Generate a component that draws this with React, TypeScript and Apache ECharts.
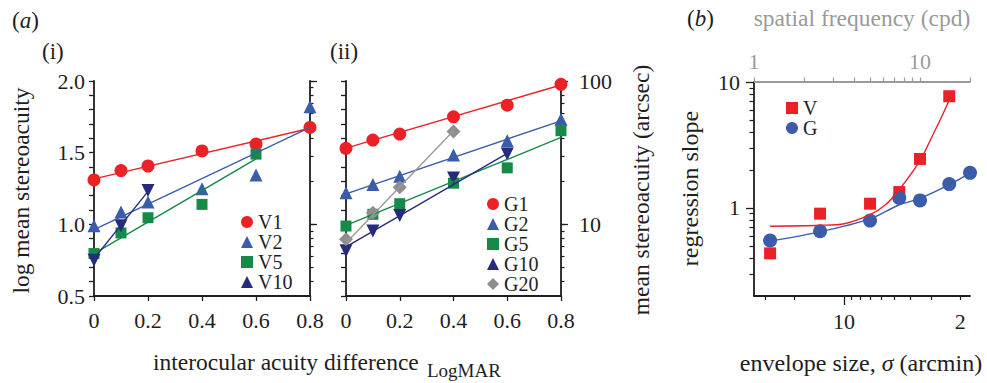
import React, { useEffect, useRef } from 'react';
import * as echarts from 'echarts';

const FONT = 'Liberation Serif, serif';

// ---------- panel (a) data ----------
const acuityDiff = [0, 0.1, 0.2, 0.4, 0.6, 0.8];
const xTickLabels = [0, 0.2, 0.4, 0.6, 0.8];
const logTicks = [0.5, 0.6, 0.7, 0.8, 0.9, 1.0, 1.1, 1.2, 1.3, 1.4, 1.5, 1.6, 1.7, 1.8, 1.9, 2.0];
const logTickLabels = [0.5, 1.0, 1.5, 2.0];
const arcsecTicks = [4, 5, 6, 7, 8, 9, 10, 20, 30, 40, 50, 60, 70, 80, 90, 100];
const arcsecLabels = [10, 100];

// (i) visual
const V1 = [1.31, 1.375, 1.407, 1.512, 1.56, 1.676];
const V2 = [0.99, 1.086, 1.155, 1.248, 1.345, 1.82];
const V5 = [0.796, 0.94, 1.046, 1.139, 1.49];
const V10 = [0.75, 0.99, 1.236];
const V1fit = [[0, 1.317], [0.8, 1.67]];
const V2fit = [[0, 0.963], [0.8, 1.676]];
const V5fit = [[0, 0.796], [0.6, 1.456]];
const V10fit = [[0, 0.76], [0.2, 1.23]];

// (ii) gabor
const G1 = [1.53, 1.588, 1.63, 1.75, 1.831, 1.977];
const G2 = [1.22, 1.278, 1.336, 1.484, 1.583, 1.734];
const G5 = [0.988, 1.07, 1.144, 1.287, 1.394, 1.653];
const G10 = [0.815, 0.954, 1.0625, 1.324, 1.49];
const G20 = [0.896, 1.081, 1.259, 1.648];
const G1fit = [[0, 1.532], [0.8, 1.972]];
const G2fit = [[0, 1.213], [0.8, 1.722]];
const G5fit = [[0, 0.993], [0.8, 1.606]];
const G10fit = [[0, 0.843], [0.6, 1.495]];
const G20fit = [[0, 0.87], [0.4, 1.653]];

// ---------- panel (b) data ----------
const SF_MIN = 1;
const SF_MAX = 20;
const SIGMA_TIMES_SF = 34.9; // envelope size (arcmin) x spatial frequency (cpd)
const sfTicks = [1, 2, 3, 4, 5, 6, 7, 8, 9, 10, 20];
const sfLabels = [1, 10];
const sigmaTicks = [30, 20, 9, 8, 7, 6, 5, 4, 3, 2];
const sigmaMajor = [10];
const sigmaLabels = [10, 2];
const slopeMin = 0.2;
const slopeMax = 10;
const slopeMinorTicks = [0.3, 0.4, 0.5, 0.6, 0.7, 0.8, 0.9, 2, 3, 4, 5, 6, 7, 8, 9];
const slopeMajorTicks = [1, 10];

const sfV = [1.25, 2.5, 5, 7.5, 10, 15];
const slopeV = [0.436, 0.901, 1.081, 1.337, 2.45, 7.71];
const sfG = [1.25, 2.5, 5, 7.5, 10, 15, 20];
const slopeG = [0.552, 0.653, 0.794, 1.2, 1.148, 1.547, 1.9];
const fitVsf = [1.25, 2.5, 3.5, 5, 6.2, 7.5, 10, 12, 13.5, 15];
const fitV = [0.716, 0.729, 0.75, 0.885, 1.06, 1.4, 2.38, 3.85, 5.3, 7.2];
const fitGsf = [1.25, 2.5, 5, 7.5, 10, 15, 20];
const fitG = [0.545, 0.646, 0.819, 1.06, 1.19, 1.53, 1.89];

// ---------- colours ----------
const RED = '#ec2128';
const BLUE = '#3b5caa';
const GREEN = '#168a47';
const NAVY = '#262b7c';
const GREY = '#8e8e8e';
const INK = '#1e1e1e';

const lg = (v: number) => Math.log10(v);
const pairs = (xs: number[], ys: number[]) => ys.map((y, i) => [xs[i], y]);
const logPairs = (xs: number[], ys: number[]) => ys.map((y, i) => [lg(xs[i]), lg(y)]);

const axisLine = { show: true, onZero: false, lineStyle: { color: INK, width: 1.8 } };
const noLine = { show: false, onZero: false };

function buildOption() {
  const xAxisA = (grid: number) => ({
    type: 'value', gridIndex: grid, position: 'bottom', min: 0, max: 0.8, interval: 0.2,
    axisLine, splitLine: { show: false },
    axisTick: { show: true, length: 5, lineStyle: { color: INK, width: 1.3 }, customValues: xTickLabels },
    axisLabel: {
      show: true, fontSize: 22, color: INK, margin: 13, fontFamily: FONT,
      customValues: xTickLabels,
      formatter: (v: number) => (v === 0 ? '0' : v.toFixed(1)),
    },
  });
  const yLeftA = (grid: number, labels: boolean) => ({
    type: 'value', gridIndex: grid, position: 'left', min: 0.5, max: 2.0, interval: 0.5,
    axisLine, splitLine: { show: false },
    axisTick: { show: true, length: 5, lineStyle: { color: INK, width: 1.3 }, customValues: logTicks },
    axisLabel: {
      show: labels, fontSize: 22, color: INK, margin: 9, fontFamily: FONT,
      customValues: logTickLabels, formatter: (v: number) => v.toFixed(1),
    },
  });
  const yRightA = (grid: number, labels: boolean) => ({
    type: 'value', gridIndex: grid, position: 'right', min: 0.5, max: 2.0,
    axisLine, splitLine: { show: false },
    axisTick: { show: true, length: 3.5, lineStyle: { color: INK, width: 1.2 }, customValues: arcsecTicks.map(lg) },
    axisLabel: {
      show: labels, fontSize: 22, color: INK, margin: 18, fontFamily: FONT,
      customValues: arcsecLabels.map(lg), formatter: (v: number) => String(Math.round(Math.pow(10, v))),
    },
  });
  const yRightMajorA = (grid: number) => ({
    type: 'value', gridIndex: grid, position: 'right', min: 0.5, max: 2.0,
    axisLine: noLine, splitLine: { show: false },
    axisTick: { show: true, length: 7, lineStyle: { color: INK, width: 1.3 }, customValues: arcsecLabels.map(lg) },
    axisLabel: { show: false },
  });

  const sigmaMin = lg(SIGMA_TIMES_SF / SF_MAX);
  const sigmaMax = lg(SIGMA_TIMES_SF / SF_MIN);

  const xAxis = [
    xAxisA(0),
    xAxisA(1),
    {
      type: 'value', gridIndex: 2, position: 'bottom', inverse: true, min: sigmaMin, max: sigmaMax,
      axisLine, splitLine: { show: false },
      axisTick: { show: true, length: 4, lineStyle: { color: INK, width: 1.2 }, customValues: sigmaTicks.map(lg) },
      axisLabel: {
        show: true, fontSize: 22, color: INK, margin: 14, fontFamily: FONT,
        customValues: sigmaLabels.map(lg), formatter: (v: number) => String(Math.round(Math.pow(10, v))),
      },
    },
    {
      type: 'value', gridIndex: 2, position: 'top', min: lg(SF_MIN), max: lg(SF_MAX),
      axisLine: { show: true, onZero: false, lineStyle: { color: '#9a9a9a', width: 1.8 } },
      splitLine: { show: false },
      axisTick: { show: true, length: 4.5, lineStyle: { color: '#9a9a9a', width: 1.2 }, customValues: sfTicks.map(lg) },
      axisLabel: {
        show: true, fontSize: 22, color: '#9a9a9a', margin: 10, fontFamily: FONT,
        customValues: sfLabels.map(lg), formatter: (v: number) => String(Math.round(Math.pow(10, v))),
      },
    },
    {
      type: 'value', gridIndex: 2, position: 'bottom', inverse: true, min: sigmaMin, max: sigmaMax,
      axisLine: noLine, splitLine: { show: false },
      axisTick: { show: true, length: 9, lineStyle: { color: INK, width: 1.3 }, customValues: sigmaMajor.map(lg) },
      axisLabel: { show: false },
    },
  ];

  const yAxis = [
    yLeftA(0, true),
    yRightA(0, false),
    yRightMajorA(0),
    yLeftA(1, false),
    yRightA(1, true),
    yRightMajorA(1),
    {
      type: 'value', gridIndex: 2, position: 'left', min: lg(slopeMin), max: lg(slopeMax),
      axisLine, splitLine: { show: false },
      axisTick: { show: true, length: 4.5, lineStyle: { color: INK, width: 1.2 }, customValues: slopeMinorTicks.map(lg) },
      axisLabel: {
        show: true, fontSize: 22, color: INK, margin: 14, fontFamily: FONT,
        customValues: slopeMajorTicks.map(lg), formatter: (v: number) => String(Math.round(Math.pow(10, v))),
      },
    },
    {
      type: 'value', gridIndex: 2, position: 'left', min: lg(slopeMin), max: lg(slopeMax),
      axisLine: noLine, splitLine: { show: false },
      axisTick: { show: true, length: 8, lineStyle: { color: INK, width: 1.3 }, customValues: slopeMajorTicks.map(lg) },
      axisLabel: { show: false },
    },
  ];

  const scatter = (name: string, x: number, y: number, data: number[][], symbol: string, size: number, color: string, rotate = 0) => ({
    type: 'scatter', name, xAxisIndex: x, yAxisIndex: y, data, symbol, symbolSize: size, symbolRotate: rotate,
    itemStyle: { color, opacity: 1 }, z: 2,
  });
  const fit = (name: string, x: number, y: number, data: number[][], color: string, smooth: number | boolean = false) => ({
    type: 'line', name, xAxisIndex: x, yAxisIndex: y, data, showSymbol: false, symbol: 'none', smooth,
    lineStyle: { color, width: 1.4 }, silent: true, z: 3,
  });

  const series = [
    scatter('V1', 0, 0, pairs(acuityDiff, V1), 'circle', 13, RED),
    scatter('V2', 0, 0, pairs(acuityDiff, V2), 'triangle', 13, BLUE),
    scatter('V5', 0, 0, pairs(acuityDiff, V5), 'rect', 11, GREEN),
    scatter('V10', 0, 0, pairs(acuityDiff, V10), 'triangle', 13, NAVY, 180),
    fit('V1 fit', 0, 0, V1fit, RED),
    fit('V2 fit', 0, 0, V2fit, BLUE),
    fit('V5 fit', 0, 0, V5fit, GREEN),
    fit('V10 fit', 0, 0, V10fit, NAVY),

    scatter('G1', 1, 3, pairs(acuityDiff, G1), 'circle', 13, RED),
    scatter('G2', 1, 3, pairs(acuityDiff, G2), 'triangle', 13, BLUE),
    scatter('G5', 1, 3, pairs(acuityDiff, G5), 'rect', 11, GREEN),
    scatter('G10', 1, 3, pairs(acuityDiff, G10), 'triangle', 13, NAVY, 180),
    scatter('G20', 1, 3, pairs(acuityDiff, G20), 'diamond', 14, GREY),
    fit('G1 fit', 1, 3, G1fit, RED),
    fit('G2 fit', 1, 3, G2fit, BLUE),
    fit('G5 fit', 1, 3, G5fit, GREEN),
    fit('G10 fit', 1, 3, G10fit, NAVY),
    fit('G20 fit', 1, 3, G20fit, '#9a9a9a'),

    fit('V curve', 3, 6, logPairs(fitVsf, fitV), RED, 0.3),
    fit('G curve', 3, 6, logPairs(fitGsf, fitG), BLUE, 0.3),
    scatter('V', 3, 6, logPairs(sfV, slopeV), 'rect', 12, RED),
    scatter('G', 3, 6, logPairs(sfG, slopeG), 'circle', 14, BLUE),
  ];

  const legendBase = {
    orient: 'vertical', itemWidth: 12, itemHeight: 12, itemGap: 0, padding: 0, selectedMode: false,
    textStyle: { fontSize: 20, color: INK, fontFamily: FONT, lineHeight: 17 },
  };

  const t = (text: string, x: number, y: number, extra: any = {}) => ({
    type: 'text', x, y, rotation: extra.rotation || 0, silent: true,
    style: {
      text, fill: extra.fill || INK, fontFamily: FONT, fontSize: extra.fontSize || 23.5,
      align: extra.align || 'center', verticalAlign: 'middle', rich: extra.rich,
    },
  });
  const richAB = {
    n: { fontSize: 23, fontFamily: FONT, fill: INK },
    i: { fontSize: 23, fontStyle: 'italic', fontFamily: FONT, fill: INK },
  };

  return {
    animation: false,
    backgroundColor: '#ffffff',
    textStyle: { fontFamily: FONT },
    grid: [
      { left: 94, top: 81, width: 216, height: 215, containLabel: false, outerBoundsMode: 'none' },
      { left: 346, top: 81, width: 215, height: 215, containLabel: false, outerBoundsMode: 'none' },
      { left: 754, top: 82, width: 216, height: 214, containLabel: false, outerBoundsMode: 'none' },
    ],
    xAxis,
    yAxis,
    legend: [
      { ...legendBase, left: 241, top: 212, data: ['V1', 'V2', 'V5', 'V10'] },
      { ...legendBase, left: 487, top: 194, data: ['G1', 'G2', 'G5', 'G10', 'G20'] },
      { ...legendBase, left: 786, top: 98, textStyle: { ...legendBase.textStyle, lineHeight: 20 }, data: ['V', 'G'] },
    ],
    series,
    graphic: [
      t('{n|(}{i|a}{n|)}', 12, 20, { align: 'left', rich: richAB }),
      t('(i)', 42, 51, { align: 'left', fontSize: 23 }),
      t('(ii)', 330, 51, { align: 'left', fontSize: 23 }),
      t('{n|(}{i|b}{n|)}', 687, 18, { align: 'left', rich: richAB }),
      t('spatial frequency (cpd)', 862, 18, { fill: '#9a9a9a', fontSize: 23.5 }),
      t('log mean stereoacuity', 21, 190.5, { rotation: Math.PI / 2 }),
      t('mean stereoacuity (arcsec)', 641, 190, { rotation: Math.PI / 2 }),
      t('regression slope', 690, 188.5, { rotation: Math.PI / 2, fontSize: 24 }),
      t('interocular acuity difference', 153, 362, { align: 'left' }),
      t('LogMAR', 427, 370, { align: 'left', fontSize: 19 }),
      t('{a|envelope size, }{s|σ}{a| (arcmin)}', 861, 363, {
        rich: {
          a: { fontSize: 24, fontFamily: FONT, fill: INK },
          s: { fontSize: 24, fontFamily: FONT, fontStyle: 'italic', fill: INK },
        },
      }),
    ],
  };
}

export default function App() {
  const ref = useRef<HTMLDivElement>(null);
  useEffect(() => {
    document.body.style.margin = '0';
    if (!ref.current) return;
    const chart = echarts.init(ref.current, undefined, { renderer: 'svg' });
    chart.setOption(buildOption() as any);
    return () => chart.dispose();
  }, []);
  return <div ref={ref} style={{ width: 987, height: 383, background: '#fff' }} />;
}
